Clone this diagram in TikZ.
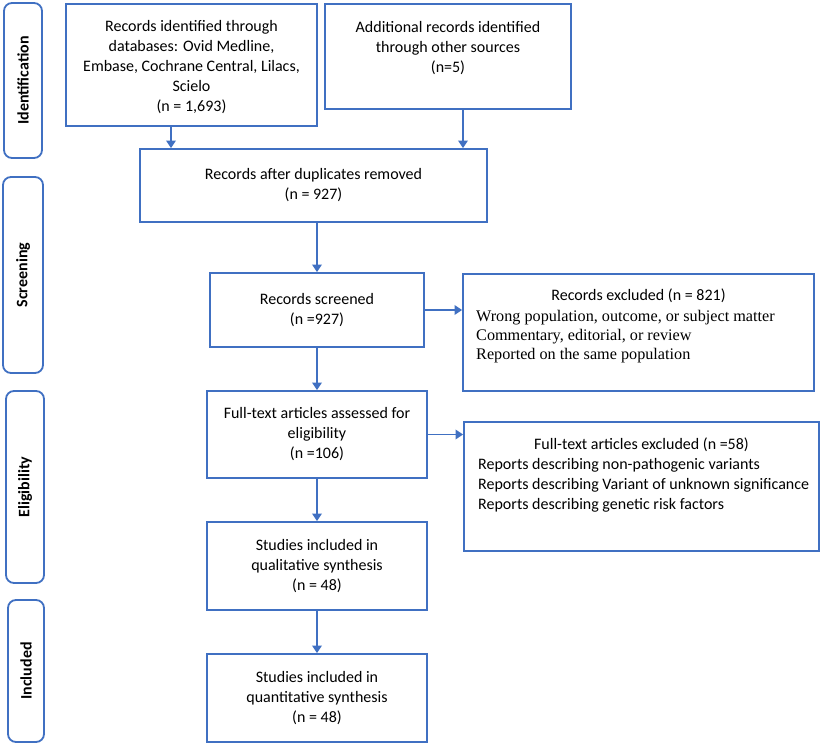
\documentclass[tikz,border=0pt]{standalone}
\usepackage{fontspec}
\setmainfont{Carlito}
\newfontfamily\timesf{Liberation Serif}
\usetikzlibrary{arrows.meta}
\definecolor{pblue}{HTML}{4070C2}
\begin{document}
\begin{tikzpicture}[x=1pt,y=-1pt,
  box/.style={draw=pblue, line width=1.8pt, rectangle, inner sep=0pt, align=center,
    font=\fontsize{16}{20}\selectfont},
  side/.style={draw=pblue, line width=1.8pt, rectangle, rounded corners=8pt, inner sep=0pt},
  sidetext/.style={rotate=90, font=\fontsize{16}{18}\selectfont\bfseries, inner sep=0pt},
  txt/.style={inner sep=0pt, font=\fontsize{16}{20}\selectfont},
  arr/.style={draw=pblue, line width=1.8pt, -{Triangle[length=7.5pt,width=9.5pt]}}]
\useasboundingbox (0,0) rectangle (823,746);
% side labels
\node[side, minimum width=38, minimum height=155] (s1) at (23,80.5) {};
\node[sidetext] (s1t) at (s1.center) {Identification};
\node[side, minimum width=40, minimum height=196] (s2) at (23,275) {};
\node[sidetext] (s2t) at (s2.center) {Screening};
\node[side, minimum width=38, minimum height=192] (s3) at (25,487) {};
\node[sidetext] (s3t) at (s3.center) {Eligibility};
\node[side, minimum width=36, minimum height=142] (s4) at (26,671) {};
\node[sidetext] (s4t) at (s4.center) {Included};
% main boxes
\node[box, minimum width=251, minimum height=122] (b1) at (191.5,65) {};
\node[txt, align=center, yshift=-2.5pt] (b1t) at (b1.center)
  {Records identified through\\databases: Ovid Medline,\\Embase, Cochrane Central, Lilacs,\\Scielo\\(n = 1,693)};
\node[box, minimum width=246, minimum height=105] (b2) at (448,56.5) {};
\node[txt, anchor=north, align=center] (b2t) at (448,21)
  {Additional records identified\\through other sources\\(n=5)};
\node[box, minimum width=347, minimum height=73] (b3) at (313.5,185.5)
  {Records after duplicates removed\\(n = 927)};
\node[box, minimum width=214, minimum height=74] (b4) at (317,310)
  {Records screened\\(n =927)};
\node[box, minimum width=220, minimum height=87] (b5) at (317,434.5)
  {Full-text articles assessed for\\eligibility\\(n =106)};
\node[box, minimum width=220, minimum height=88] (b6) at (317,566)
  {Studies included in\\qualitative synthesis\\(n = 48)};
\node[box, minimum width=220, minimum height=88] (b7) at (317,698)
  {Studies included in\\quantitative synthesis\\(n = 48)};
% exclusion boxes
\node[box, minimum width=351, minimum height=117] (e1) at (638.5,332.5) {};
\node[txt, anchor=north] (e1t) at (638.5,289) {Records excluded (n = 821)};
\node[txt, anchor=north west, align=left, font=\timesf\fontsize{16.2}{19}\selectfont] (e1l) at (476,310)
  {Wrong population, outcome, or subject matter\\Commentary, editorial, or review\\Reported on the same population};
\node[box, minimum width=355, minimum height=129] (e2) at (641.5,486.5) {};
\node[txt, anchor=north] (e2t) at (641.5,438) {Full-text articles excluded (n =58)};
\node[txt, anchor=north west, align=left] (e2l) at (478,458)
  {Reports describing non-pathogenic variants\\Reports describing Variant of unknown significance\\Reports describing genetic risk factors};
% connectors
\coordinate (a1x) at (171,0);
\coordinate (a2x) at (463,0);
\draw[arr] (b1.south -| a1x) -- (b3.north -| a1x);
\draw[arr] (b2.south -| a2x) -- (b3.north -| a2x);
\draw[arr] (b3.south -| b4.north) -- (b4.north);
\draw[arr] (b4.south) -- (b5.north);
\draw[arr] (b5.south) -- (b6.north);
\draw[arr] (b6.south) -- (b7.north);
\draw[arr] (b4.east) -- (e1.west |- b4.east);
\draw[arr] (b5.east) -- (e2.west |- b5.east);
\end{tikzpicture}
\end{document}
